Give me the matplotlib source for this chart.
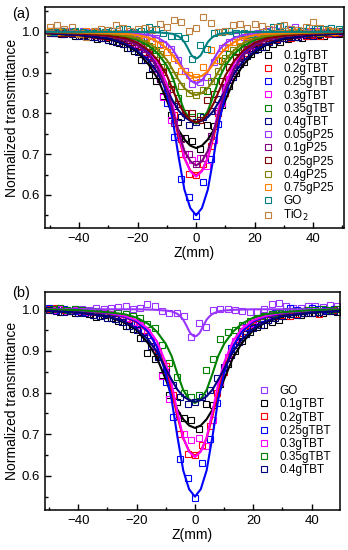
import numpy as np
import matplotlib
matplotlib.use('Agg')
import matplotlib.pyplot as plt
from matplotlib.ticker import MultipleLocator

plt.rcParams['font.family'] = ['Liberation Sans', 'DejaVu Sans']

# measurement positions (mm)
z_a = np.arange(-50, 48, 2.5)        # -50 ... 47.5
z_b = np.arange(-48.75, 49, 2.5)     # -48.75 ... 48.75

# fit-curve positions
z_fit = [-52, -40, -30, -24, -20, -16, -13, -10, -8, -6, -4, -2, 0,
         2, 4, 6, 8, 10, 13, 16, 20, 24, 30, 40, 52]
z_go_fit = [-52, -20, -14, -10, -8, -6, -5, -4, -3, -2.5, -2, -1.5, -1, -0.5, 0,
            0.5, 1, 1.5, 2, 2.5, 3, 4, 5, 6, 8, 10, 14, 20, 52]

# ---- measured points ----
pts_01tbt = [.998, .994, .996, .991, .993, .988, .982, .986, .978, .972, .960, .952, .930, .895,
             .880, .842, .795, .778, .740, .733, .712, .772, .770, .820, .868, .900, .925, .945,
             .958, .963, .970, .975, .983, .988, .986, .990, .992, .991, .996, .994]       # z_b
pts_02tbt = [1.001, 1.003, .999, .997, .995, .996, .993, .991, .988, .985, .982, .976, .966, .951,
             .924, .898, .865, .795, .700, .652, .650, .675, .720, .800, .850, .895, .928, .948,
             .962, .974, .978, .983, .986, .985, .988, .990, .992, .989, .995, .998]       # z_a
pts_025tbt = [1.002, .998, 1.001, .997, .996, .994, .996, .990, .989, .985, .980, .972, .966, .948,
              .925, .888, .826, .742, .640, .595, .548, .632, .688, .775, .860, .908, .935, .958,
              .968, .980, .984, .990, .994, 1.004, .998, .997, 1.003, 1.0, .999, 1.001]    # z_a
pts_03tbt = [.998, 1.001, .997, .999, .996, .994, .993, .990, .989, .984, .978, .970, .962, .945,
             .910, .840, .785, .745, .700, .685, .690, .672, .735, .825, .885, .925, .955, .965,
             .975, .985, .987, .990, .994, .996, .995, .998, .999, 1.0, .999, 1.0]         # z_b
pts_035tbt = [1.001, 1.003, .999, 1.000, .998, .996, .997, .993, .994, .990, .988, .984, .978, .965,
              .955, .915, .872, .838, .800, .790, .794, .855, .880, .928, .945, .950, .962, .972,
              .980, .985, .988, .992, .995, .996, .997, .999, .998, 1.000, .999, 1.001]    # z_b
pts_04tbt = [.998, .996, .994, .995, .990, .991, .987, .985, .980, .976, .970, .960, .950, .930,
             .912, .885, .850, .818, .790, .772, .778, .790, .805, .835, .862, .890, .922, .940,
             .955, .962, .975, .980, .984, .988, .987, .992, .991, .994, .996, .995]       # z_a
pts_005p25 = [1.003, .999, 1.001, .998, 1.002, .999, 1.000, .997, 1.001, .998, .996, .997, .993, .990,
              .985, .970, .958, .930, .905, .872, .878, .890, .925, .960, .975, .990, .988, .995,
              .998, 1.002, 1.004, 1.001, 1.008, 1.012, 1.003, 1.000, 1.002, .999, 1.001, 1.0]  # z_b
pts_01p25 = [1.000, .999, .997, .998, .995, .994, .992, .990, .990, .986, .978, .972, .962, .944,
             .920, .885, .848, .776, .738, .700, .676, .690, .745, .805, .862, .905, .938, .955,
             .966, .979, .984, .986, .991, .993, .992, .996, .995, .998, .997, 1.0]        # z_a
pts_025p25 = [.999, .997, .998, .996, .995, .994, .992, .990, .988, .985, .981, .975, .965, .950,
              .930, .902, .860, .822, .802, .800, .785, .832, .848, .880, .915, .938, .958, .970,
              .976, .984, .987, .990, .991, .994, .996, .995, .998, .997, .999, .998]      # z_b
pts_04p25 = [1.000, 1.002, .999, 1.000, .998, .997, .999, .996, .995, .992, .990, .986, .980, .972,
             .962, .945, .918, .895, .868, .850, .846, .858, .880, .905, .935, .955, .962, .978,
             .985, .986, .992, .994, .995, .997, .996, .998, .999, .998, 1.000, .999]      # z_a
pts_075p25 = [1.001, .999, 1.002, 1.000, .998, 1.001, .999, .997, .998, .996, .995, .993, .990, .985,
              .978, .968, .950, .935, .905, .893, .890, .915, .955, .930, .962, .975, .980, .990,
              .993, .995, .994, .998, .997, 1.000, .999, 1.001, 1.000, .999, 1.001, 1.000]  # z_a
pts_go = [1.000, 1.002, .999, 1.001, 1.000, .998, 1.002, 1.000, 1.003, 1.006, 1.008, 1.000, 1.002, 1.012,
          1.008, .996, .990, .991, .985, .934, .968, .958, .998, 1.000, 1.001, .998, .996, .994,
          .993, 1.000, 1.012, 1.014, 1.008, 1.004, 1.002, 1.009, 1.008, 1.006, 1.010, 1.008]  # z_b
pts_tio2 = [1.013, 1.017, 1.008, 1.012, .995, .987, 1.003, 1.008, 1.004, 1.017, 1.010, 1.002, 1.006, 1.010,
            1.004, 1.020, 1.012, 1.030, 1.025, 1.003, 1.010, 1.036, 1.021, 1.000, 1.002, 1.017, 1.020, 1.010,
            1.020, 1.014, 1.008, 1.013, 1.016, 1.008, 1.005, 1.012, 1.025, 1.010, 1.004, 1.002]  # z_a

# ---- fitted curves ----
fit_01tbt = [.997, .992, .983, .968, .950, .918, .883, .832, .794, .759, .736, .721, .715,
             .721, .736, .759, .794, .832, .883, .918, .950, .968, .983, .992, .997]
fit_02tbt = [1.0, .996, .990, .981, .969, .945, .911, .858, .805, .743, .690, .660, .648,
             .660, .690, .743, .805, .858, .911, .945, .969, .981, .990, .996, 1.0]
fit_025tbt = [1.0, .997, .991, .982, .971, .946, .910, .847, .784, .694, .613, .568, .550,
              .568, .613, .694, .784, .847, .910, .946, .971, .982, .991, .997, 1.0]
fit_03tbt = [1.0, .998, .992, .984, .974, .953, .923, .872, .821, .753, .692, .658, .645,
             .658, .692, .753, .821, .872, .923, .953, .974, .984, .992, .998, 1.0]
fit_035tbt = [1.0, .998, .993, .988, .980, .965, .946, .917, .888, .845, .806, .784, .775,
              .784, .806, .845, .888, .917, .946, .965, .980, .988, .993, .998, 1.0]
fit_04tbt = [.997, .992, .984, .970, .953, .927, .898, .857, .831, .807, .791, .782, .778,
             .782, .791, .807, .831, .857, .898, .927, .953, .970, .984, .992, .997]
fit_005p25 = [1.0, 1.0, .999, .997, .995, .992, .985, .972, .957, .933, .902, .881, .873,
              .881, .902, .933, .957, .972, .985, .992, .995, .997, .999, 1.0, 1.0]
fit_01p25 = [.999, .996, .990, .980, .967, .943, .909, .859, .808, .754, .708, .683, .672,
             .683, .708, .754, .808, .859, .909, .943, .967, .980, .990, .996, .999]
fit_025p25 = [.999, .996, .991, .984, .973, .953, .929, .893, .858, .825, .799, .784, .778,
              .784, .799, .825, .858, .893, .929, .953, .973, .984, .991, .996, .999]
fit_04p25 = [1.0, .998, .995, .990, .984, .972, .955, .931, .907, .882, .862, .850, .845,
             .850, .862, .882, .907, .931, .955, .972, .984, .990, .995, .998, 1.0]
fit_075p25 = [1.0, .999, .997, .995, .992, .985, .975, .959, .943, .922, .903, .892, .888,
              .892, .903, .922, .943, .959, .975, .985, .992, .995, .997, .999, 1.0]
fit_go = [1.0, 1.0, .999, .997, .995, .989, .983, .975, .962, .955, .948, .942, .939, .936, .935,
          .936, .939, .942, .948, .955, .962, .975, .983, .989, .995, .997, .999, 1.0, 1.0]

labels_a = ['0.1gTBT', '0.2gTBT', '0.25gTBT', '0.3gTBT', '0.35gTBT', '0.4gTBT',
            '0.05gP25', '0.1gP25', '0.25gP25', '0.4gP25', '0.75gP25', 'GO', 'TiO$_2$']
colors_a = ['#000000', '#FF0000', '#0000FF', '#FF00FF', '#008000', '#000080',
            '#9933FF', '#800080', '#800000', '#808000', '#FF8000', '#008080', '#C08040']
zs_a = [z_b, z_a, z_a, z_b, z_b, z_a, z_b, z_a, z_b, z_a, z_a, z_b, z_a]
pts_a = [pts_01tbt, pts_02tbt, pts_025tbt, pts_03tbt, pts_035tbt, pts_04tbt,
         pts_005p25, pts_01p25, pts_025p25, pts_04p25, pts_075p25, pts_go, pts_tio2]
fits_a = [fit_01tbt, fit_02tbt, fit_025tbt, fit_03tbt, fit_035tbt, fit_04tbt,
          fit_005p25, fit_01p25, fit_025p25, fit_04p25, fit_075p25, fit_go, None]

labels_b = ['GO', '0.1gTBT', '0.2gTBT', '0.25gTBT', '0.3gTBT', '0.35gTBT', '0.4gTBT']
colors_b = ['#9933FF', '#000000', '#FF0000', '#0000FF', '#FF00FF', '#008000', '#000080']
zs_b = [z_b, z_b, z_a, z_a, z_b, z_b, z_a]
pts_b = [pts_go, pts_01tbt, pts_02tbt, pts_025tbt, pts_03tbt, pts_035tbt, pts_04tbt]
fits_b = [fit_go, fit_01tbt, fit_02tbt, fit_025tbt, fit_03tbt, fit_035tbt, fit_04tbt]


def draw(ax, labels, colors, zs, pts, fits, ylim, xlim):
    handles = []
    for lab, c, z, p in zip(labels, colors, zs, pts):
        h, = ax.plot(z, p, ls='none', marker='s', ms=4.2, mfc='none', mec=c, mew=0.8, label=lab)
        handles.append(h)
    for lab, c, f in zip(labels, colors, fits):
        if f is None:
            continue
        zf = z_go_fit if lab == 'GO' else z_fit
        ax.plot(zf, f, color=c, lw=1.5)
    ax.set_xlim(*xlim)
    ax.set_ylim(*ylim)
    ax.xaxis.set_major_locator(MultipleLocator(20))
    ax.xaxis.set_minor_locator(MultipleLocator(10))
    ax.yaxis.set_major_locator(MultipleLocator(0.1))
    ax.yaxis.set_minor_locator(MultipleLocator(0.05))
    ax.yaxis.set_major_formatter(plt.FuncFormatter(lambda v, _: '%.1f' % v))
    ax.tick_params(which='both', direction='in', labelsize=9.5, top=False, right=False)
    ax.tick_params(which='major', length=4, width=1)
    ax.tick_params(which='minor', length=2.5, width=1)
    for s in ax.spines.values():
        s.set_linewidth(1.1)
    ax.set_xlabel('Z(mm)', fontsize=10, labelpad=1)
    ax.set_ylabel('Normalized transmittance', fontsize=10, labelpad=2)
    return handles


fig = plt.figure(figsize=(3.48, 5.5), dpi=100)

ax1 = fig.add_axes([0.129, 0.5855, 0.859, 0.4018])
h1 = draw(ax1, labels_a, colors_a, zs_a, pts_a, fits_a, (0.519, 1.061), (-51.7, 50.5))
ax1.legend(handles=h1, loc='upper left', bbox_to_anchor=(0.73, 0.805), frameon=False,
           fontsize=8.5, handlelength=0.8, handletextpad=0.9, labelspacing=0.1,
           borderaxespad=0, borderpad=0)
fig.text(0.035, 0.975, '(a)', fontsize=10.5, va='center')

ax2 = fig.add_axes([0.129, 0.0727, 0.848, 0.396])
h2 = draw(ax2, labels_b, colors_b, zs_b, pts_b, fits_b, (0.518, 1.041), (-51.4, 49.7))
ax2.legend(handles=h2, loc='upper left', bbox_to_anchor=(0.727, 0.573), frameon=False,
           fontsize=8.5, handlelength=0.8, handletextpad=0.9, labelspacing=0.1,
           borderaxespad=0, borderpad=0)
fig.text(0.035, 0.468, '(b)', fontsize=10.5, va='center')

fig.savefig('out.png', dpi=100)
